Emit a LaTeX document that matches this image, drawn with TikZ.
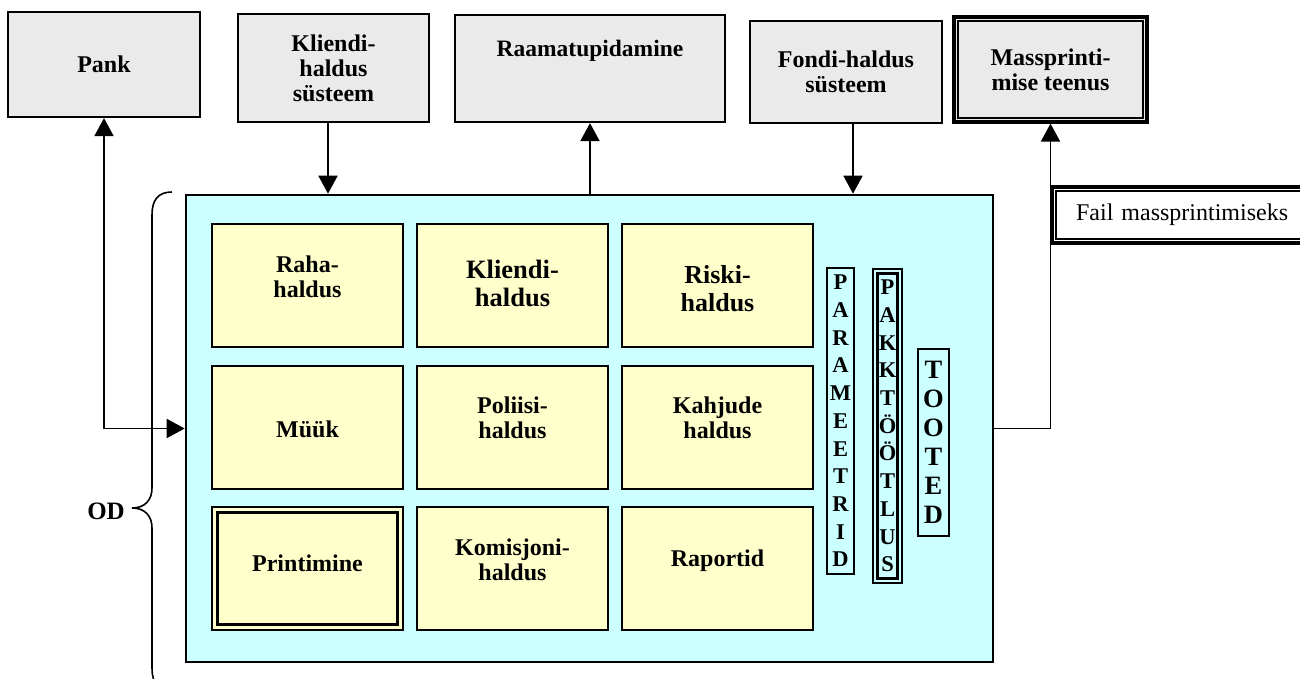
\documentclass[tikz,border=0pt]{standalone}
\usepackage{fontspec}
\setmainfont{Liberation Serif}
\usetikzlibrary{arrows.meta,calc}
\definecolor{topgray}{HTML}{EAEAEA}
\definecolor{bigcyan}{HTML}{CCFFFF}
\definecolor{inyellow}{HTML}{FFFFCC}
\begin{document}
\begin{tikzpicture}[x=1pt,y=-1pt,
  topbox/.style={draw, line width=2.2pt, fill=topgray, inner sep=0pt, align=center,
    font={\fontsize{24}{25}\selectfont\bfseries}},
  inbox/.style={draw, line width=2.2pt, fill=inyellow, inner sep=0pt,
    minimum width=191pt, minimum height=123pt},
  txt/.style={align=center, inner sep=0pt, font={\fontsize{24}{25.5}\selectfont\bfseries}},
  vbox/.style={draw, line width=1.8pt, inner sep=0pt, align=center,
    font={\fontsize{22.5}{27.7}\selectfont\bfseries}},
  arr/.style={line width=1.8pt, -{Triangle[length=18pt,width=19pt]}},
  arrboth/.style={line width=1.8pt, {Triangle[length=18pt,width=19pt]}-{Triangle[length=18pt,width=19pt]}},
  bracestyle/.style={line width=1.6pt}
]
\clip (0,0) rectangle (1300,679);
\fill[white] (0,0) rectangle (1300,679);

% top boxes
\node[topbox, minimum width=192pt, minimum height=105pt] (pank) at (104,64.5) {Pank};
\node[topbox, minimum width=191pt, minimum height=108pt] (kh) at (333.5,68) {Kliendi-\\haldus\\süsteem};
\node[topbox, minimum width=270pt, minimum height=107pt] (rp) at (590,68.5) {};
\node[txt, font={\fontsize{23.5}{25}\selectfont\bfseries}] (rptext) at (590,51) {Raamatupidamine};
\node[topbox, minimum width=192pt, minimum height=102pt] (fh) at (846,72) {Fondi-haldus\\süsteem};
\node[topbox, line width=3.2pt, minimum width=193pt, minimum height=105pt] (mp) at (1050.5,69.5) {Massprinti-\\mise teenus};
\draw[line width=1.4pt] ([shift={(5.5,5.5)}]mp.north west) rectangle ([shift={(-5.5,-5.5)}]mp.south east);

% big box
\node[draw, line width=2.6pt, fill=bigcyan, minimum width=807pt, minimum height=467pt, inner sep=0pt] (big) at (589.5,428.5) {};

% inner boxes
\node[inbox] (raha) at (307.5,285.5) {};
\node[inbox] (klh) at (512.5,285.5) {};
\node[inbox] (risk) at (717.5,285.5) {};
\node[inbox] (muuk) at (307.5,427.5) {};
\node[inbox] (pol) at (512.5,427.5) {};
\node[inbox] (kahj) at (717.5,427.5) {};
\node[inbox, line width=1.5pt] (print) at (307.5,568.5) {};
\draw[line width=3.2pt] ([shift={(6,6)}]print.north west) rectangle ([shift={(-6,-6)}]print.south east);
\node[inbox] (kom) at (512.5,568.5) {};
\node[inbox] (rap) at (717.5,568.5) {};

\node[txt] (rahat) at (307.5,277) {Raha-\\haldus};
\node[txt, font={\fontsize{26.5}{28}\selectfont\bfseries}] (klht) at (512.5,283) {Kliendi-\\haldus};
\node[txt, font={\fontsize{26}{28}\selectfont\bfseries}] (riskt) at (717.5,289) {Riski-\\haldus};
\node[txt] (muukt) at (307.5,429) {Müük};
\node[txt] (polt) at (512.5,418) {Poliisi-\\haldus};
\node[txt] (kahjt) at (717.5,418) {Kahjude\\haldus};
\node[txt] (printt) at (307.5,563) {Printimine};
\node[txt] (komt) at (512.5,560) {Komisjoni-\\haldus};
\node[txt] (rapt) at (717.5,561) {Raportid};

% vertical boxes
\node[vbox, minimum width=27pt, minimum height=306pt] (param) at (840.5,421) {P\\A\\R\\A\\M\\E\\E\\T\\R\\I\\D};
\node[vbox, line width=2.2pt, minimum width=29pt, minimum height=314pt] (pakk) at (887.5,426) {P\\A\\K\\K\\T\\Ö\\Ö\\T\\L\\U\\S};
\draw[line width=2.8pt] ([shift={(5.5,5.5)}]pakk.north west) rectangle ([shift={(-5.5,-5.5)}]pakk.south east);
\node[vbox, minimum width=31pt, minimum height=187pt, font={\fontsize{26.5}{29}\selectfont\bfseries}] (too) at (933.5,442.5) {T\\O\\O\\T\\E\\D};

% connectors
\draw[arrboth] (pank.south) |- (big.west);
\draw[arr] ([xshift=-5.5pt]kh.south) -- ([xshift=-5.5pt]kh.south |- big.north);
\draw[arr] (rp.south |- big.north) -- (rp.south);
\draw[arr] ([xshift=7pt]fh.south) -- ([xshift=7pt]fh.south |- big.north);
\draw[arr] (big.east) -| (mp.south);

% file label box
\node[draw, line width=3.2pt, fill=white, anchor=west, minimum height=56pt, text width=226pt,
  inner xsep=24pt, inner ysep=0pt, align=left, font={\fontsize{24}{25}\selectfont}] (fail) at (1050.5,215) {Fail massprintimiseks};
\draw[line width=1.4pt] ([shift={(5.5,5.5)}]fail.north west) rectangle ([shift={(-5.5,-5.5)}]fail.south east);

% brace and OD
\draw[bracestyle] (172,192) .. controls (158,192) and (152,200) .. (152,215) -- (152,488)
  .. controls (152,500) and (145,508) .. (132,508)
  .. controls (145,508) and (152,516) .. (152,528) -- (152,668)
  .. controls (152,683) and (158,691) .. (172,691);
\node[txt, font={\fontsize{25}{26}\selectfont\bfseries}] (od) at (106,511) {OD};
\end{tikzpicture}
\end{document}
